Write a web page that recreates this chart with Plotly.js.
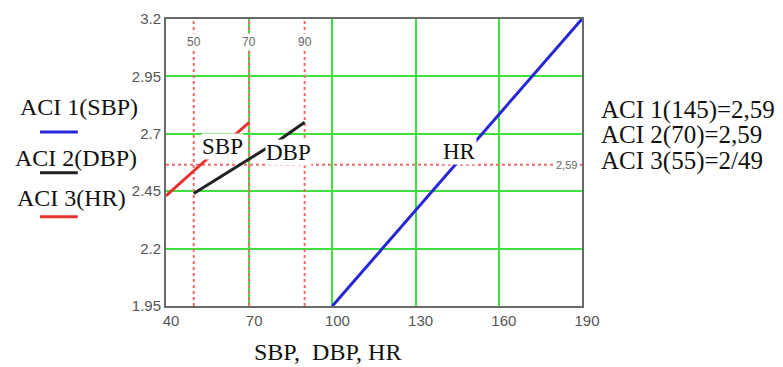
<!DOCTYPE html>
<html><head><meta charset="utf-8">
<script src="https://cdn.plot.ly/plotly-3.0.1.min.js"></script>
<style>body{margin:0;background:#fff}</style>
</head><body><div id="chart" style="width:783px;height:367px"></div>
<script>
const xTicks = [40, 70, 100, 130, 160, 190];
const yTicks = [1.95, 2.2, 2.45, 2.7, 2.95, 3.2];
const yTickText = ['1.95', '2.2', '2.45', '2.7', '2.95', '3.2'];
const aci1X = [100, 145, 190];
const aci1Y = [1.95, 2.575, 3.2];
const aci2X = [50, 70, 80, 90];
const aci2Y = [2.44, 2.59, 2.665, 2.75];
const aci3X = [40, 53.4, 70];
const aci3Y = [2.43, 2.575, 2.75];
const markerX = [50, 70, 90];
const markerLabels = ['50', '70', '90'];
const refY = 2.565;
const refLabel = '2,59';
const legendNames = ['ACI 1(SBP)', 'ACI 2(DBP)', 'ACI 3(HR)'];
const resultLines = ['ACI 1(145)=2,59', 'ACI 2(70)=2,59', 'ACI 3(55)=2/49'];
const curveLabels = ['SBP', 'DBP', 'HR'];
const curveLabelX = [60.4, 84.2, 146];
const curveLabelY = [2.645, 2.618, 2.625];

const colors = ['#2626d6', '#222222', '#e83232'];
const serif = 'Liberation Serif, Times New Roman, serif';
const tickFont = {family: 'Liberation Sans Narrow, Liberation Sans, Arial, sans-serif', size: 15, color: '#555'};

const traces = [
  {x: aci1X, y: aci1Y, mode: 'lines', line: {color: colors[0], width: 3}},
  {x: aci2X, y: aci2Y, mode: 'lines', line: {color: colors[1], width: 3}},
  {x: aci3X, y: aci3Y, mode: 'lines', line: {color: colors[2], width: 3}}
];

const shapes = [];
markerX.forEach(v => shapes.push({type: 'line', xref: 'x', yref: 'y', x0: v, x1: v, y0: yTicks[0], y1: yTicks[yTicks.length-1], layer: 'between', line: {color: '#f26a6a', width: 2, dash: 'dot'}}));
shapes.push({type: 'line', xref: 'x', yref: 'y', x0: xTicks[0], x1: xTicks[xTicks.length-1], y0: refY, y1: refY, layer: 'between', line: {color: '#f26a6a', width: 2, dash: 'dot'}});
const swatchY = [0.606, 0.4645, 0.311];
swatchY.forEach((yy, i) => shapes.push({type: 'line', xref: 'paper', yref: 'paper', x0: -0.303, x1: -0.212, y0: yy, y1: yy, line: {color: colors[i], width: 3}}));

const annotations = [];
markerX.forEach((v, i) => annotations.push({x: v, y: 0.951, xref: 'x', yref: 'paper', text: markerLabels[i], showarrow: false, bgcolor: '#fff', font: {family: tickFont.family, size: 12, color: '#666'}}));
annotations.push({x: 184.5, y: refY, xref: 'x', yref: 'y', text: refLabel, showarrow: false, bgcolor: '#fff', font: {family: tickFont.family, size: 11, color: '#666'}});
curveLabels.forEach((t, i) => annotations.push({x: curveLabelX[i], y: curveLabelY[i], xref: 'x', yref: 'y', text: t, showarrow: false, bgcolor: '#fff', borderpad: 0, font: {family: serif, size: 23, color: '#111'}}));
const legendX = [-0.356, -0.368, -0.363];
const legendY = [0.693, 0.5157, 0.376];
legendNames.forEach((t, i) => annotations.push({x: legendX[i], y: legendY[i], xref: 'paper', yref: 'paper', xanchor: 'left', yanchor: 'middle', text: t, showarrow: false, font: {family: serif, size: 24, color: '#111'}}));
const resultY = [0.683, 0.596, 0.505];
resultLines.forEach((t, i) => annotations.push({x: 1.04, y: resultY[i], xref: 'paper', yref: 'paper', xanchor: 'left', yanchor: 'middle', text: t, showarrow: false, font: {family: serif, size: 25, color: '#111'}}));
annotations.push({x: 0.3875, y: -0.16, xref: 'paper', yref: 'paper', xanchor: 'center', yanchor: 'middle', text: 'SBP,  DBP, HR', showarrow: false, font: {family: serif, size: 24, color: '#111'}});

const layout = {
  width: 783, height: 367,
  margin: {l: 166, r: 201, t: 19, b: 61},
  paper_bgcolor: '#fff', plot_bgcolor: '#fff',
  showlegend: false,
  xaxis: {range: [40, 190], tickvals: xTicks, ticks: '', showgrid: true, gridcolor: '#3ee03e', gridwidth: 2, zeroline: false, showline: true, mirror: true, linecolor: '#6a6a6a', linewidth: 2, tickfont: tickFont, ticklabelshift: 5},
  yaxis: {range: [1.95, 3.2], tickvals: yTicks, ticktext: yTickText, ticks: '', showgrid: true, gridcolor: '#3ee03e', gridwidth: 2, zeroline: false, showline: true, mirror: true, linecolor: '#6a6a6a', linewidth: 2, tickfont: tickFont},
  shapes: shapes,
  annotations: annotations
};
Plotly.newPlot('chart', traces, layout, {staticPlot: true, displayModeBar: false});
</script></body></html>
